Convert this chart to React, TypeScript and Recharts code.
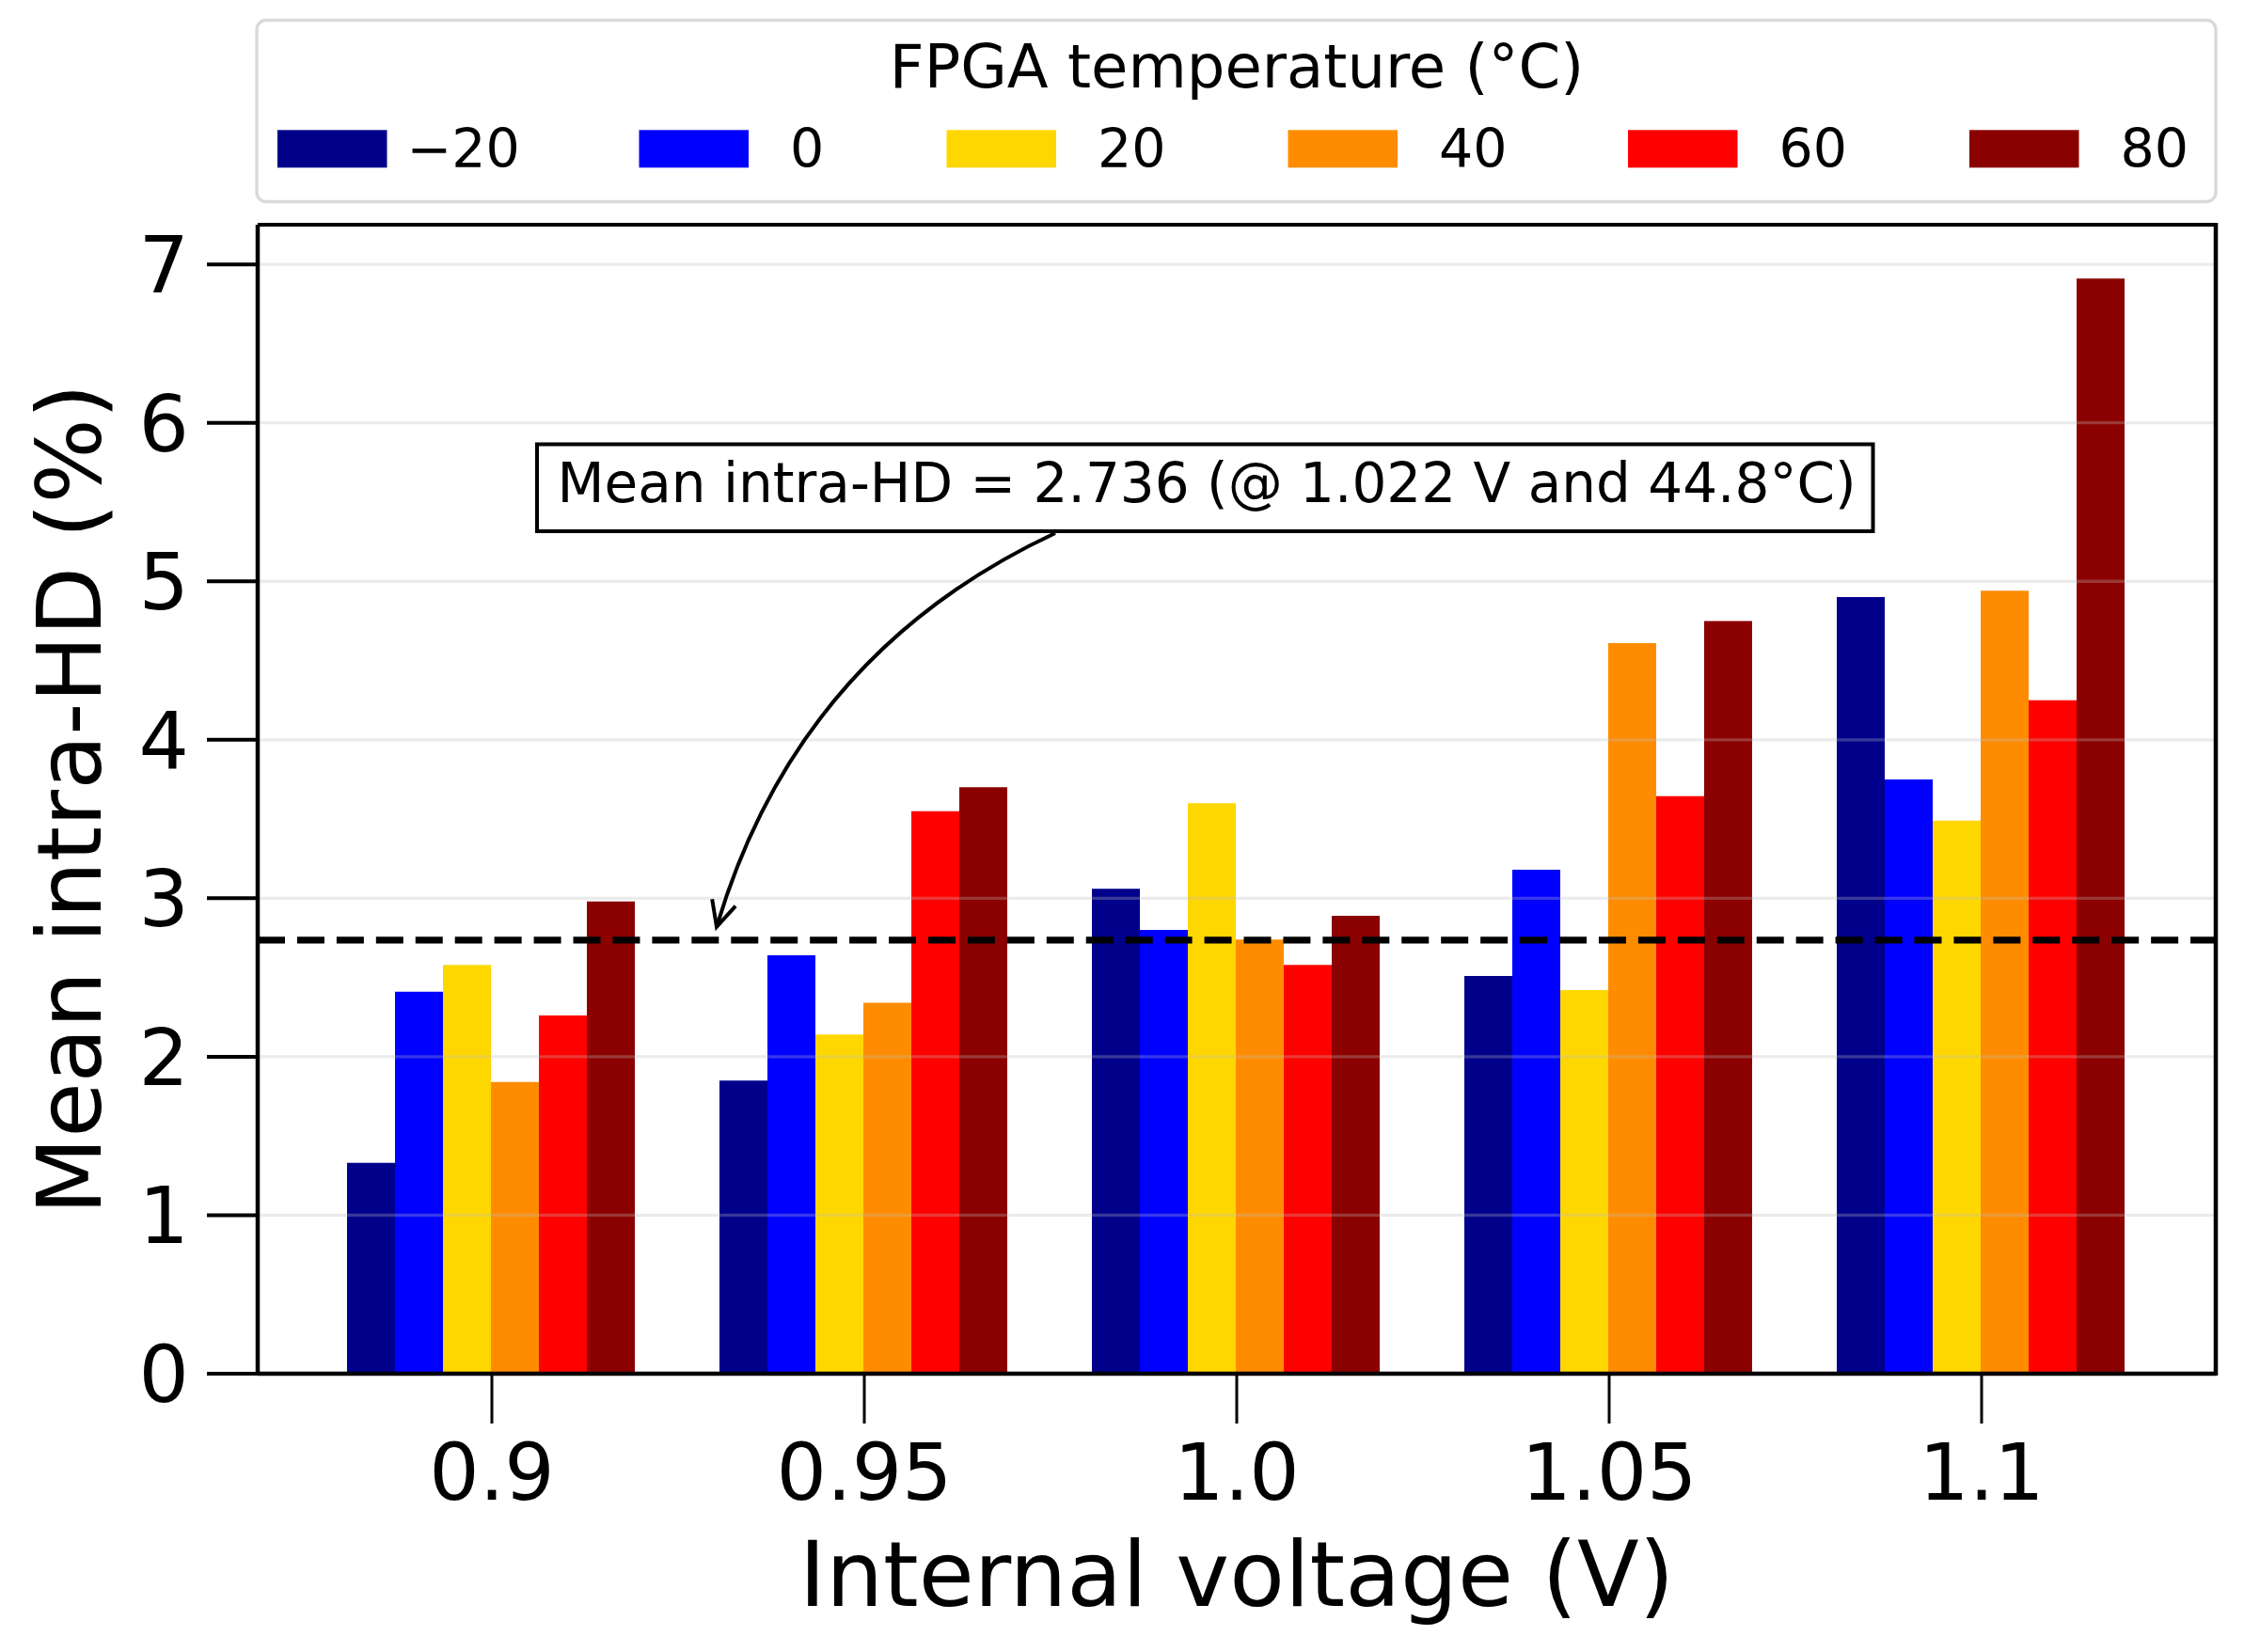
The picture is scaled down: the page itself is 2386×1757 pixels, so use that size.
import React from "react";
import {
  BarChart,
  Bar,
  XAxis,
  YAxis,
  ReferenceLine,
} from "recharts";

// x categories: internal voltage (V)
const VOLTAGES = ["0.9", "0.95", "1.0", "1.05", "1.1"];

// legend entries: FPGA temperature (°C)
const TEMPS = ["−20", "0", "20", "40", "60", "80"];
const COLORS = ["#00008B", "#0000FF", "#FFD700", "#FF8C00", "#FF0000", "#8B0000"];

// mean intra-HD (%) per temperature, one value per voltage
const HD_M20 = [1.33, 1.85, 3.06, 2.51, 4.9];
const HD_0 = [2.41, 2.64, 2.8, 3.18, 3.75];
const HD_20 = [2.58, 2.14, 3.6, 2.42, 3.49];
const HD_40 = [1.84, 2.34, 2.74, 4.61, 4.94];
const HD_60 = [2.26, 3.55, 2.58, 3.645, 4.25];
const HD_80 = [2.98, 3.7, 2.89, 4.75, 6.91];

const Y_TICKS = [0, 1, 2, 3, 4, 5, 6, 7];
const Y_MAX = 7.25;
const MEAN_HD = 2.736;
const NOTE = "Mean intra-HD = 2.736 (@ 1.022 V and 44.8°C)";

const SERIES = [HD_M20, HD_0, HD_20, HD_40, HD_60, HD_80];
const KEYS = ["tm20", "t0", "t20", "t40", "t60", "t80"];

const data = VOLTAGES.map((v, i) => {
  const row: Record<string, string | number> = { voltage: v };
  KEYS.forEach((k, s) => {
    row[k] = SERIES[s][i];
  });
  return row;
});

// page layout
const W = 2386;
const H = 1757;
const PLOT_LEFT = 274;
const PLOT_RIGHT = 2356;
const PLOT_TOP = 239;
const PLOT_BOTTOM = 1461;
const FONT = "DejaVu Sans";

const yPx = (v: number) =>
  PLOT_BOTTOM - (v / Y_MAX) * (PLOT_BOTTOM - PLOT_TOP);

const LEGEND_SWATCH_X = [295, 679.5, 1006.5, 1369.5, 1731, 2094];

function Overlay() {
  const tipY = yPx(MEAN_HD) - 14;
  return (
    <svg
      width={W}
      height={H}
      style={{ position: "absolute", left: 0, top: 0, pointerEvents: "none" }}
      fontFamily={FONT}
    >
      <defs>
        <marker
          id="head"
          markerUnits="userSpaceOnUse"
          viewBox="-32 -18 36 36"
          markerWidth={36}
          markerHeight={36}
          refX={0}
          refY={0}
          orient="auto"
        >
          <path
            d="M -27 -13 L 0 0 L -27 13"
            fill="none"
            stroke="#000"
            strokeWidth={4}
          />
        </marker>
      </defs>

      {/* right spine */}
      <line
        x1={PLOT_RIGHT}
        y1={PLOT_TOP - 2}
        x2={PLOT_RIGHT}
        y2={PLOT_BOTTOM + 2}
        stroke="#000"
        strokeWidth={4.5}
      />

      {/* legend */}
      <rect
        x={273}
        y={21.5}
        width={PLOT_RIGHT - 273}
        height={193}
        rx={10}
        fill="#fff"
        stroke="#d9d9d9"
        strokeWidth={3.3}
      />
      <text x={(PLOT_LEFT + PLOT_RIGHT) / 2} y={93} fontSize={64} textAnchor="middle">
        FPGA temperature (°C)
      </text>
      {TEMPS.map((t, i) => (
        <g key={t}>
          <rect x={LEGEND_SWATCH_X[i]} y={138.3} width={116.5} height={40} fill={COLORS[i]} />
          <text
            x={LEGEND_SWATCH_X[i] + 116.5 + (i === 0 ? 21 : 44)}
            y={178.3}
            fontSize={57}
          >
            {t}
          </text>
        </g>
      ))}

      {/* annotation */}
      <path
        d={`M 1122 567 Q 848 695 762 ${tipY}`}
        fill="none"
        stroke="#000"
        strokeWidth={4}
        markerEnd="url(#head)"
      />
      <rect
        x={571}
        y={472.5}
        width={1420.5}
        height={92.5}
        fill="#fff"
        stroke="#000"
        strokeWidth={4}
      />
      <text x={1283} y={533.7} fontSize={58} textAnchor="middle">
        {NOTE}
      </text>
    </svg>
  );
}

export default function App() {
  const tickStyle = { fill: "#000", fontSize: 84, fontFamily: FONT };
  return (
    <div
      style={{
        position: "absolute",
        left: 0,
        top: 0,
        width: W,
        height: H,
        background: "#fff",
        fontFamily: FONT,
      }}
    >
      <BarChart
        width={W}
        height={H}
        data={data}
        margin={{ top: PLOT_TOP, right: W - PLOT_RIGHT, bottom: 0, left: 0 }}
        barCategoryGap={44}
        barGap={0}
      >
        <XAxis
          dataKey="voltage"
          height={H - PLOT_BOTTOM}
          padding={{ left: 51, right: 51 }}
          tick={tickStyle}
          tickSize={53}
          tickMargin={21}
          tickLine={{ stroke: "#000", strokeWidth: 3 }}
          axisLine={{ stroke: "#000", strokeWidth: 4.5 }}
          interval={0}
          label={{
            value: "Internal voltage (V)",
            position: "insideBottom",
            offset: 49,
            fill: "#000",
            fontSize: 96,
            fontFamily: FONT,
          }}
        />
        <YAxis
          width={PLOT_LEFT}
          type="number"
          domain={[0, Y_MAX]}
          ticks={Y_TICKS}
          interval={0}
          tick={tickStyle}
          tickSize={54}
          tickMargin={19}
          tickLine={{ stroke: "#000", strokeWidth: 4 }}
          axisLine={{ stroke: "#000", strokeWidth: 4.5 }}
          label={{
            value: "Mean intra-HD (%)",
            angle: -90,
            position: "insideLeft",
            offset: 73,
            fill: "#000",
            fontSize: 95,
            fontFamily: FONT,
            style: { textAnchor: "middle" },
          }}
        />

        {KEYS.map((k, i) => (
          <Bar
            key={k}
            dataKey={k}
            name={TEMPS[i]}
            fill={COLORS[i]}
            isAnimationActive={false}
          />
        ))}

        {Y_TICKS.slice(1).map((t) => (
          <ReferenceLine
            key={t}
            y={t}
            stroke="rgba(190,190,190,0.3)"
            strokeWidth={3.3}
          />
        ))}
        <ReferenceLine y={Y_MAX} stroke="#000" strokeWidth={4} />
        <ReferenceLine
          y={MEAN_HD}
          stroke="#000"
          strokeWidth={7.3}
          strokeDasharray="29 12.94"
        />
      </BarChart>
      <Overlay />
    </div>
  );
}
